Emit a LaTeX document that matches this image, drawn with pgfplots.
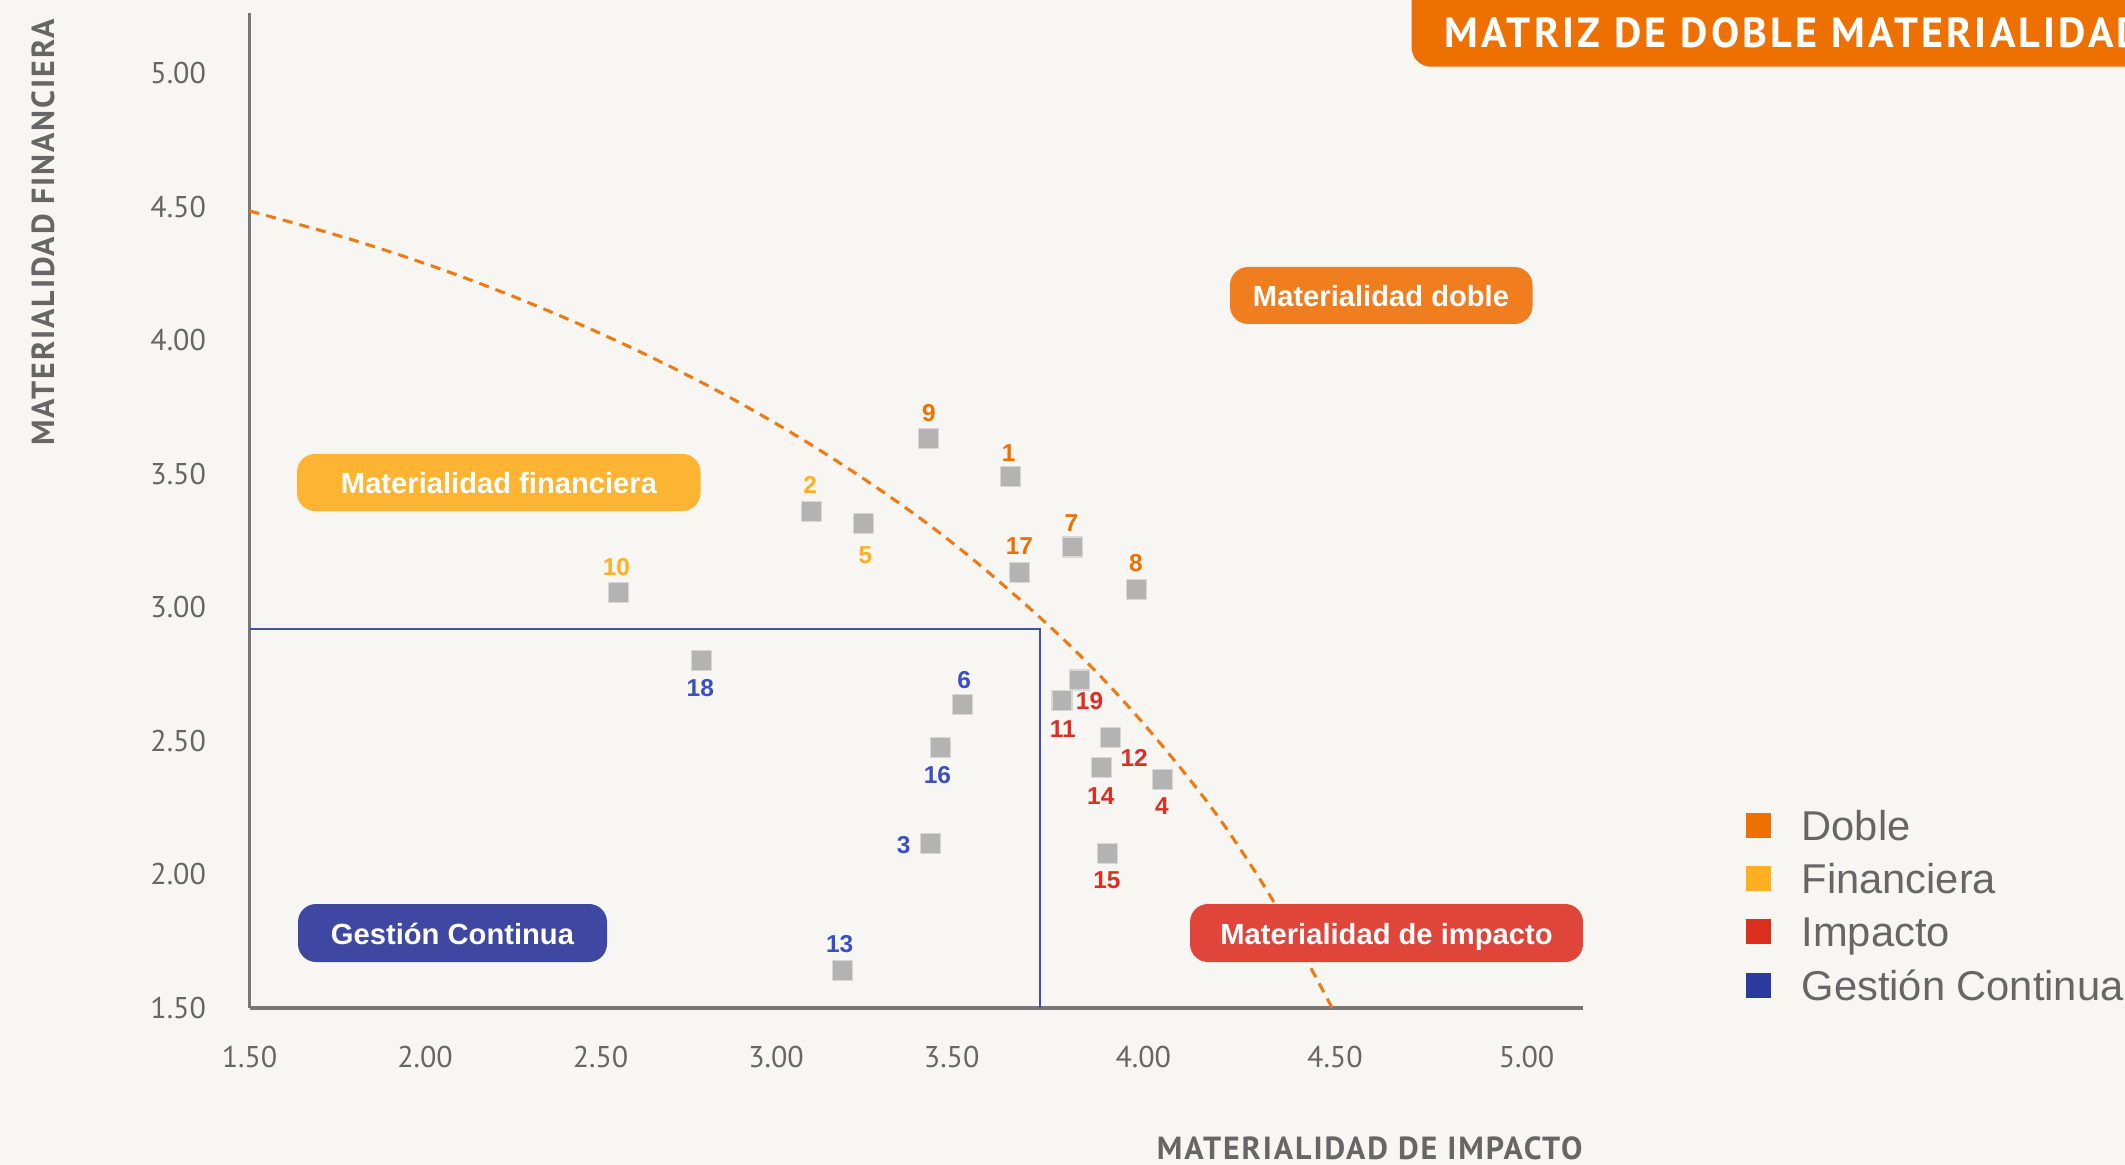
\documentclass[border=0pt]{standalone}
\usepackage{pgfplots}
\pgfplotsset{compat=1.18}
\usepackage{pgfplotstable}
\usepackage{fontspec}
\setmainfont{PT Sans}
\newfontfamily\arialf{Liberation Sans}
\newfontfamily\spacedf{PT Sans}[LetterSpace=6]
\newfontfamily\titlef{PT Sans}[LetterSpace=7.5]
\definecolor{bg}{HTML}{F7F6F2}
\definecolor{axgray}{HTML}{777777}
\definecolor{txtgray}{HTML}{666666}
\definecolor{cDoble}{HTML}{EE7000}
\definecolor{cFin}{HTML}{FFAF1F}
\definecolor{cImp}{HTML}{DC2E1C}
\definecolor{cGes}{HTML}{2B3A9E}
\definecolor{lDoble}{HTML}{EE7000}
\definecolor{lFin}{HTML}{FFB020}
\definecolor{lImp}{HTML}{DC2F23}
\definecolor{lGes}{HTML}{3B4FC4}
\definecolor{bDoble}{HTML}{F07D1E}
\definecolor{bFin}{HTML}{FDB432}
\definecolor{bImp}{HTML}{E0453A}
\definecolor{bGes}{HTML}{3E47A2}
\definecolor{rectblue}{HTML}{4150AC}
\definecolor{curve}{HTML}{F07A10}
\definecolor{ptgray}{HTML}{B3B3B3}
\definecolor{ptedge}{HTML}{D8D8D8}

\pgfplotstableread{
x y lbl dx dy
3.435 3.631 9 0 9.36
3.654 3.489 1 -0.7 8.64
3.677 3.132 17 0 9.36
3.815 3.226 7 -0.3 8.75
3.982 3.068 8 -0.2 9.36
}\doble
\pgfplotstableread{
x y lbl dx dy
3.102 3.360 2 -0.6 9.36
3.250 3.315 5 0.6 -11.4
2.550 3.056 10 -0.6 9.2
}\financiera
\pgfplotstableread{
x y lbl dx dy
3.833 2.728 19 3.7 -7.7
3.788 2.652 11 0.3 -10.4
3.914 2.513 12 8.6 -7.3
3.890 2.400 14 -0.1 -10.4
4.050 2.356 4 -0.2 -9.5
3.906 2.077 15 -0.1 -9.6
}\impacto
\pgfplotstableread{
x y lbl dx dy
2.788 2.802 18 -0.5 -9.9
3.529 2.636 6 0.5 8.64
3.468 2.476 16 -1.1 -10.0
3.440 2.117 3 -9.7 -0.6
3.188 1.639 13 -0.9 9.7
}\gestion

\pgfplotsset{ptstyle/.style={only marks, mark=square*, mark size=3.6pt,
  mark options={fill=ptgray, draw=ptedge, line width=0.4pt},
  point meta=explicit symbolic, nodes near coords,
  visualization depends on={\thisrow{dx}\as\dx},
  visualization depends on={\thisrow{dy}\as\dy},
  nodes near coords style={anchor=center, inner sep=0pt, xshift={\dx pt}, yshift={\dy pt},
    font=\arialf\bfseries\fontsize{8.8}{10}\selectfont, text=#1}}}

\begin{document}
\begin{tikzpicture}
\fill[bg] (0pt,0pt) rectangle (765pt,-419.4pt);
\path[use as bounding box] (0pt,0pt) rectangle (765pt,-419.4pt);
\begin{axis}[
  at={(89.82pt,-362.88pt)}, anchor=south west,
  scale only axis, width=480.06pt, height=358.02pt,
  x coord trafo/.code={\pgfmathparse{(#1>3.5)*(3.5+(#1-3.5)*1.09169)+(#1<=3.5)*(#1)}},
  x coord inv trafo/.code={\pgfmathparse{(#1>3.5)*(3.5+(#1-3.5)/1.09169)+(#1<=3.5)*(#1)}},
  xmin=1.5, xmax=5.1474, ymin=1.5, ymax=5.2233,
  axis lines=left, axis line style={-, draw=axgray, line width=1.1pt},
  xtick={1.5,2,2.5,3,3.5,4,4.5,5}, ytick={1.5,2,2.5,3,3.5,4,4.5,5},
  xticklabels={1.50,2.00,2.50,3.00,3.50,4.00,4.50,5.00},
  yticklabels={1.50,2.00,2.50,3.00,3.50,4.00,4.50,5.00},
  major tick length=0pt,
  /pgf/number format/assume math mode=true,
  tick label style={font=\fontsize{10.8}{12}\selectfont, text=txtgray, inner sep=0pt},
  xticklabel style={anchor=center, yshift=-17.5pt},
  yticklabel style={anchor=east, xshift=-15.5pt},
  clip=false,
]
\addplot[rectblue, line width=0.9pt] coordinates {(1.5,2.919) (3.731,2.919) (3.731,1.5)};
\addplot[curve, line width=1.1pt, dash pattern=on 3.6pt off 2.6pt, smooth, tension=0.6] coordinates {
(1.5,4.484) (1.788,4.378) (2.073,4.253) (2.357,4.107) (2.642,3.938) (2.927,3.743)
(3.211,3.515) (3.496,3.248) (3.757,2.927) (3.953,2.642) (4.149,2.305) (4.279,2.039)
(4.383,1.792) (4.493,1.5)};
\addplot[ptstyle=lDoble] table[x=x,y=y,meta=lbl]{\doble};
\addplot[ptstyle=lFin] table[x=x,y=y,meta=lbl]{\financiera};
\addplot[ptstyle=lImp] table[x=x,y=y,meta=lbl]{\impacto};
\addplot[ptstyle=lGes] table[x=x,y=y,meta=lbl]{\gestion};
\end{axis}
\begin{scope}[x=0.36pt,y=-0.36pt]
% region boxes
\fill[bDoble, rounded corners=6.5pt] (1230,267) rectangle (1532.5,324);
\node[anchor=base, inner sep=0pt, text=white, font=\arialf\bfseries\fontsize{10.5}{12}\selectfont] at (1381,306.5) {Materialidad doble};
\fill[bFin, rounded corners=6.5pt] (297,454) rectangle (700.5,511);
\node[anchor=base, inner sep=0pt, text=white, font=\arialf\bfseries\fontsize{10.5}{12}\selectfont] at (499,494) {Materialidad financiera};
\fill[bGes, rounded corners=6.5pt] (298,904) rectangle (607,962);
\node[anchor=base, inner sep=0pt, text=white, font=\arialf\bfseries\fontsize{10.5}{12}\selectfont] at (452.5,944) {Gestión Continua};
\fill[bImp, rounded corners=6.5pt] (1190,904) rectangle (1583,962);
\node[anchor=base, inner sep=0pt, text=white, font=\arialf\bfseries\fontsize{10.5}{12}\selectfont] at (1386.5,944) {Materialidad de impacto};
% axis titles
\node[rotate=90, inner sep=0pt, text=txtgray, font=\spacedf\bfseries\fontsize{11.5}{13}\selectfont] at (43,232.5) {MATERIALIDAD FINANCIERA};
\node[anchor=east, inner sep=0pt, text=txtgray, font=\spacedf\bfseries\fontsize{11.5}{13}\selectfont] at (1583,1148) {MATERIALIDAD DE IMPACTO};
% title
\fill[cDoble, rounded corners=7pt] (1411.6,-40) rectangle (2250,66.7);
\node[anchor=base west, inner sep=0pt, text=white, font=\titlef\bfseries\fontsize{15.2}{16}\selectfont] at (1444,48) {MATRIZ DE DOBLE MATERIALIDAD};
% legend
\fill[cDoble] (1746,812.5) rectangle (1771,837.5);
\fill[cFin] (1746,866) rectangle (1771,891);
\fill[cImp] (1746,919) rectangle (1771,944);
\fill[cGes] (1746,972.5) rectangle (1771,997.5);
\node[anchor=base west, inner sep=0pt, text=txtgray, font=\arialf\fontsize{15}{17}\selectfont] at (1801,840) {Doble};
\node[anchor=base west, inner sep=0pt, text=txtgray, font=\arialf\fontsize{15}{17}\selectfont] at (1801,893.5) {Financiera};
\node[anchor=base west, inner sep=0pt, text=txtgray, font=\arialf\fontsize{15}{17}\selectfont] at (1801,946.5) {Impacto};
\node[anchor=base west, inner sep=0pt, text=txtgray, font=\arialf\fontsize{15}{17}\selectfont] at (1801,1000) {Gestión Continua};
\end{scope}
\end{tikzpicture}
\end{document}
